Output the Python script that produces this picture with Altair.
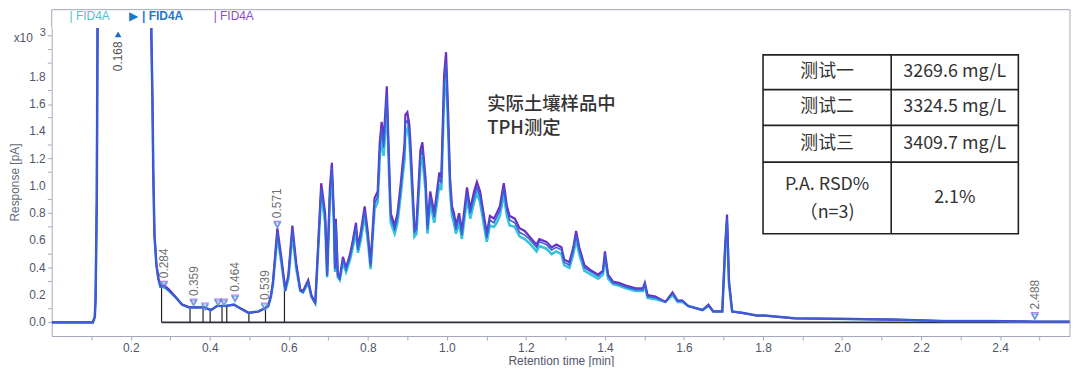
import altair as alt
import pandas as pd

# ---------------- data ----------------
rt = [0.0, 0.104, 0.109, 0.111, 0.114, 0.116, 0.121, 0.172, 0.222, 0.247,
      0.252, 0.255, 0.257, 0.260, 0.265, 0.270, 0.275, 0.285, 0.297, 0.315,
      0.330, 0.348, 0.365, 0.385, 0.403, 0.418, 0.440, 0.461, 0.473, 0.498,
      0.523, 0.544, 0.548, 0.555, 0.560, 0.571, 0.581, 0.591, 0.599, 0.609,
      0.619, 0.629, 0.636, 0.649, 0.657, 0.667, 0.674, 0.682, 0.692, 0.697,
      0.704, 0.709, 0.714, 0.717, 0.719, 0.724, 0.729, 0.737, 0.745, 0.755,
      0.762, 0.770, 0.775, 0.782, 0.792, 0.800, 0.807, 0.817, 0.825, 0.830,
      0.835, 0.840, 0.848, 0.855, 0.858, 0.868, 0.875, 0.883, 0.893, 0.895,
      0.900, 0.905, 0.908, 0.918, 0.923, 0.933, 0.938, 0.946, 0.951, 0.958,
      0.968, 0.981, 0.986, 0.993, 0.998, 1.003, 1.008, 1.013, 1.018, 1.023,
      1.031, 1.038, 1.051, 1.059, 1.069, 1.076, 1.084, 1.094, 1.101, 1.109,
      1.119, 1.126, 1.134, 1.144, 1.152, 1.159, 1.172, 1.184, 1.197, 1.209,
      1.227, 1.234, 1.252, 1.265, 1.277, 1.290, 1.297, 1.310, 1.320, 1.327,
      1.335, 1.348, 1.365, 1.383, 1.395, 1.400, 1.408, 1.420, 1.435, 1.453,
      1.478, 1.496, 1.501, 1.508, 1.528, 1.553, 1.571, 1.584, 1.596, 1.611,
      1.647, 1.662, 1.674, 1.697, 1.704, 1.709, 1.714, 1.722, 1.747, 1.785,
      1.805, 1.880, 2.006, 2.131, 2.257, 2.383, 2.484, 2.577]

fid_cyan = [0.00, 0.00, 0.04, 0.17, 0.89, 2.16, 4.0, 6.0, 6.0, 4.0,
            2.14, 1.62, 1.11, 0.64, 0.42, 0.32, 0.26, 0.26, 0.23, 0.18,
            0.13, 0.11, 0.11, 0.11, 0.09, 0.12, 0.12, 0.13, 0.11, 0.07,
            0.08, 0.11, 0.12, 0.19, 0.28, 0.63, 0.44, 0.23, 0.32, 0.65,
            0.39, 0.23, 0.22, 0.29, 0.19, 0.14, 0.51, 0.94, 0.73, 0.33,
            0.91, 1.08, 0.73, 0.37, 0.70, 0.33, 0.31, 0.44, 0.37, 0.46,
            0.55, 0.66, 0.51, 0.60, 0.78, 0.60, 0.39, 0.83, 0.88, 1.20,
            1.36, 1.22, 1.60, 0.97, 0.73, 0.65, 0.73, 0.93, 1.20, 1.40,
            1.42, 1.34, 1.20, 0.63, 0.65, 1.15, 1.21, 0.97, 0.65, 0.88,
            0.73, 1.01, 0.97, 1.66, 1.85, 1.43, 0.97, 0.78, 0.73, 0.65,
            0.73, 0.61, 0.91, 0.76, 0.88, 0.95, 0.88, 0.71, 0.59, 0.71,
            0.70, 0.73, 0.78, 0.94, 0.78, 0.71, 0.70, 0.63, 0.61, 0.58,
            0.52, 0.56, 0.54, 0.50, 0.52, 0.50, 0.42, 0.40, 0.50, 0.61,
            0.50, 0.38, 0.35, 0.32, 0.35, 0.48, 0.32, 0.28, 0.27, 0.25,
            0.23, 0.23, 0.27, 0.18, 0.17, 0.15, 0.20, 0.15, 0.15, 0.12,
            0.09, 0.12, 0.08, 0.08, 0.51, 0.73, 0.28, 0.08, 0.07, 0.05,
            0.05, 0.03, 0.025, 0.02, 0.01, 0.01, 0.005, 0.005]

fid_blue = [0.00, 0.00, 0.04, 0.17, 0.89, 2.16, 4.0, 6.0, 6.0, 4.0,
            2.14, 1.62, 1.11, 0.64, 0.42, 0.32, 0.26, 0.26, 0.23, 0.18,
            0.13, 0.11, 0.11, 0.11, 0.09, 0.12, 0.12, 0.13, 0.11, 0.07,
            0.08, 0.11, 0.12, 0.19, 0.29, 0.66, 0.46, 0.23, 0.34, 0.68,
            0.41, 0.23, 0.22, 0.30, 0.19, 0.14, 0.53, 0.98, 0.77, 0.34,
            0.95, 1.13, 0.77, 0.39, 0.73, 0.34, 0.32, 0.46, 0.39, 0.48,
            0.58, 0.70, 0.53, 0.63, 0.82, 0.63, 0.41, 0.87, 0.92, 1.26,
            1.42, 1.28, 1.67, 1.02, 0.77, 0.68, 0.77, 0.97, 1.26, 1.46,
            1.48, 1.40, 1.26, 0.66, 0.68, 1.21, 1.27, 1.02, 0.68, 0.92,
            0.77, 1.06, 1.02, 1.74, 1.90, 1.50, 1.02, 0.82, 0.77, 0.68,
            0.77, 0.64, 0.95, 0.80, 0.92, 0.99, 0.92, 0.75, 0.62, 0.75,
            0.73, 0.77, 0.82, 0.98, 0.82, 0.75, 0.73, 0.66, 0.64, 0.61,
            0.55, 0.59, 0.57, 0.53, 0.55, 0.53, 0.44, 0.42, 0.53, 0.64,
            0.53, 0.40, 0.37, 0.34, 0.37, 0.50, 0.34, 0.29, 0.28, 0.26,
            0.24, 0.24, 0.28, 0.19, 0.18, 0.15, 0.21, 0.16, 0.16, 0.12,
            0.09, 0.13, 0.08, 0.08, 0.53, 0.76, 0.29, 0.08, 0.07, 0.05,
            0.05, 0.03, 0.025, 0.02, 0.01, 0.01, 0.005, 0.005]

fid_purple = [0.00, 0.00, 0.04, 0.17, 0.89, 2.16, 4.0, 6.0, 6.0, 4.0,
              2.14, 1.62, 1.11, 0.64, 0.42, 0.32, 0.27, 0.27, 0.24, 0.18,
              0.13, 0.11, 0.11, 0.11, 0.09, 0.12, 0.12, 0.13, 0.11, 0.07,
              0.08, 0.11, 0.12, 0.20, 0.30, 0.69, 0.48, 0.24, 0.35, 0.71,
              0.43, 0.24, 0.23, 0.31, 0.20, 0.14, 0.55, 1.02, 0.80, 0.35,
              0.99, 1.17, 0.80, 0.40, 0.76, 0.35, 0.33, 0.48, 0.40, 0.50,
              0.60, 0.73, 0.55, 0.66, 0.85, 0.66, 0.43, 0.91, 0.96, 1.31,
              1.47, 1.33, 1.73, 1.06, 0.80, 0.71, 0.80, 1.01, 1.31, 1.52,
              1.54, 1.45, 1.31, 0.69, 0.71, 1.26, 1.32, 1.06, 0.71, 0.96,
              0.80, 1.10, 1.06, 1.81, 1.98, 1.56, 1.06, 0.85, 0.80, 0.71,
              0.80, 0.67, 0.99, 0.83, 0.96, 1.03, 0.96, 0.78, 0.65, 0.78,
              0.76, 0.80, 0.85, 1.02, 0.85, 0.78, 0.76, 0.69, 0.67, 0.63,
              0.57, 0.61, 0.59, 0.55, 0.57, 0.55, 0.46, 0.44, 0.55, 0.67,
              0.55, 0.42, 0.38, 0.35, 0.38, 0.52, 0.35, 0.30, 0.29, 0.27,
              0.25, 0.25, 0.29, 0.20, 0.19, 0.15, 0.22, 0.16, 0.16, 0.12,
              0.09, 0.13, 0.08, 0.08, 0.55, 0.79, 0.30, 0.08, 0.07, 0.05,
              0.05, 0.03, 0.025, 0.02, 0.01, 0.01, 0.005, 0.005]

peak_rt = [0.284, 0.359, 0.388, 0.421, 0.436, 0.464, 0.539, 0.571, 2.488]
peak_resp = [0.28, 0.15, 0.12, 0.15, 0.15, 0.18, 0.12, 0.72, 0.05]
peak_label = ["0.284", "0.359", "", "", "", "0.464", "0.539", "0.571", "2.488"]

offscale_rt = [0.168]
offscale_resp = [2.11]
offscale_label = ["0.168"]

drop_rt = [0.278, 0.350, 0.383, 0.401, 0.431, 0.443, 0.499, 0.541, 0.589]
drop_resp = [0.27, 0.10, 0.10, 0.10, 0.13, 0.13, 0.07, 0.12, 0.24]

baseline_rt = [0.278, 2.577]

note_lines = ["实际土壤样品中", "TPH测定"]
note_rt = [1.102, 1.102]
note_resp = [1.603, 1.421]

table_names = ["测试一", "测试二", "测试三"]
table_values = ["3269.6 mg/L", "3324.5 mg/L", "3409.7 mg/L"]
rsd_names = ["P.A. RSD%", "（n=3)"]
rsd_value = "2.1%"

legend_names = ["| FID4A", "| FID4A", "| FID4A"]

x_ticks = [0.1, 0.2, 0.3, 0.4, 0.5, 0.6, 0.7, 0.8, 0.9, 1.0, 1.1, 1.2, 1.3,
           1.4, 1.5, 1.6, 1.7, 1.8, 1.9, 2.0, 2.1, 2.2, 2.3, 2.4, 2.5]
y_major = [0.0, 0.2, 0.4, 0.6, 0.8, 1.0, 1.2, 1.4, 1.6, 1.8]
y_major_labels = ["0.0", "0.2", "0.4", "0.6", "0.8", "1.0", "1.2", "1.4", "1.6", "1.8"]
y_minor = [0.1, 0.3, 0.5, 0.7, 0.9, 1.1, 1.3, 1.5, 1.7, 1.9, 2.0, 2.1]

# ---------------- layout / style ----------------
W, H = 1025, 310
HEADER_TOP = -18.5
CYAN, BLUE, PURPLE = "#36c3dd", "#3b5fd8", "#6a30c2"
AX = "#a0a8b8"
LBL = "#50566a"
FONT = "Liberation Sans"
NARROW = "Liberation Sans Narrow, Liberation Sans"
CJK = "Noto Sans CJK SC"
TXT = "#333333"

# table layout in plot pixels
T_L, T_M, T_R = 716, 845, 973
T_ROWS = [27, 62, 98, 135, 207]

xs = alt.Scale(domain=[0.0, 2.577], nice=False, zero=False)
ys = alt.Scale(domain=[-0.1, 2.157], nice=False, zero=False)

x_axis = alt.Axis(
    values=x_ticks,
    labelExpr="(round(datum.value*10) % 2 == 0) ? format(datum.value, '.1f') : ''",
    labelOverlap=False,
    title="Retention time [min]", grid=False, tickSize=4, tickColor=AX,
    domainColor=AX, labelColor=LBL, labelFont=NARROW, labelFontSize=12,
    labelPadding=3, titleFont=NARROW, titleFontSize=12, titleColor=LBL,
    titleFontWeight="normal", titleY=25, titleBaseline="middle",
)
y_axis = alt.Axis(
    values=y_major, labels=False,
    title="Response [pA]", grid=False, tickSize=4, tickColor=AX,
    domainColor=AX, titleFont=FONT, titleFontSize=12, titleColor="#5f6b7d",
    titleFontWeight="normal", titleX=-37, titleY=H / 2, titleAngle=270,
    titleAlign="center", titleBaseline="middle",
)

one = pd.DataFrame({"a": [0]})
layers = []

# integration baseline
base_df = pd.DataFrame({"rt": baseline_rt, "resp": [0.0, 0.0]})
layers.append(
    alt.Chart(base_df).mark_line(color="#2b2f3a", strokeWidth=2, clip=True).encode(
        x=alt.X("rt:Q", scale=xs, axis=x_axis),
        y=alt.Y("resp:Q", scale=ys, axis=y_axis),
    )
)

# y tick labels and minor y ticks
ylab_df = pd.DataFrame({"resp": y_major, "lab": y_major_labels})
layers.append(
    alt.Chart(ylab_df).mark_text(align="right", baseline="middle", font=FONT, fontSize=12,
                                 color=LBL).encode(
        x=alt.value(-6), y=alt.Y("resp:Q", scale=ys), text="lab:N"
    )
)
minor_df = pd.DataFrame({"resp": y_minor})
layers.append(
    alt.Chart(minor_df).mark_rule(color=AX, strokeWidth=1).encode(
        x=alt.value(-4), x2=alt.value(0), y=alt.Y("resp:Q", scale=ys)
    )
)

# drop lines
drop_df = pd.DataFrame({"rt": drop_rt, "resp": drop_resp, "zero": [0.0] * len(drop_rt)})
layers.append(
    alt.Chart(drop_df).mark_rule(color="#222", strokeWidth=1.2).encode(
        x=alt.X("rt:Q", scale=xs), y=alt.Y("zero:Q", scale=ys), y2="resp:Q"
    )
)

# traces
for vals, col, sw in [(fid_cyan, CYAN, 2.6), (fid_purple, PURPLE, 2.2), (fid_blue, BLUE, 1.6)]:
    df = pd.DataFrame({"rt": rt, "resp": vals})
    layers.append(
        alt.Chart(df).mark_line(color=col, strokeWidth=sw, clip=True).encode(
            x=alt.X("rt:Q", scale=xs), y=alt.Y("resp:Q", scale=ys)
        )
    )

# peak markers
peaks_df = pd.DataFrame({"rt": peak_rt, "resp": peak_resp, "label": peak_label})
layers.append(
    alt.Chart(peaks_df).mark_point(shape="triangle-down", filled=False, size=38,
                                   color=CYAN, strokeWidth=1.3).encode(
        x=alt.X("rt:Q", scale=xs), y=alt.Y("resp:Q", scale=ys), yOffset=alt.value(1.5)
    )
)
layers.append(
    alt.Chart(peaks_df).mark_point(shape="triangle-down", filled=False, size=42,
                                   color="#8a55d8", strokeWidth=1.3).encode(
        x=alt.X("rt:Q", scale=xs), y=alt.Y("resp:Q", scale=ys)
    )
)
layers.append(
    alt.Chart(peaks_df).mark_text(angle=270, align="left", baseline="middle", dx=6,
                                  font=FONT, fontSize=12, color="#707070").encode(
        x=alt.X("rt:Q", scale=xs), y=alt.Y("resp:Q", scale=ys), text="label:N"
    )
)

off_df = pd.DataFrame({"rt": offscale_rt, "resp": offscale_resp, "label": offscale_label})
layers.append(
    alt.Chart(off_df).mark_point(shape="triangle-up", filled=True, size=45,
                                 color="#2166c9", opacity=1).encode(
        x=alt.X("rt:Q", scale=xs), y=alt.Y("resp:Q", scale=ys)
    )
)
layers.append(
    alt.Chart(off_df).mark_text(angle=270, align="right", baseline="middle", dx=-7,
                                font=FONT, fontSize=12, color="#555").encode(
        x=alt.X("rt:Q", scale=xs), y=alt.Y("resp:Q", scale=ys), text="label:N"
    )
)

# annotation text
note_df = pd.DataFrame({"rt": note_rt, "resp": note_resp, "t": note_lines})
layers.append(
    alt.Chart(note_df).mark_text(align="left", baseline="middle", font=CJK, fontSize=18.5,
                                 fontWeight=500, color=TXT).encode(
        x=alt.X("rt:Q", scale=xs), y=alt.Y("resp:Q", scale=ys), text="t:N"
    )
)

# frame: header box lines
layers.append(alt.Chart(one).mark_rule(color=AX, strokeWidth=1).encode(
    x=alt.value(0), x2=alt.value(W), y=alt.value(HEADER_TOP)))
layers.append(alt.Chart(one).mark_rule(color=AX, strokeWidth=1).encode(
    x=alt.value(W), y=alt.value(HEADER_TOP), y2=alt.value(H)))
layers.append(alt.Chart(one).mark_rule(color=AX, strokeWidth=1).encode(
    x=alt.value(0), y=alt.value(HEADER_TOP), y2=alt.value(0)))

# header legend
for txt, xpos, col, wt in [(legend_names[0], 18, "#4cc4cf", "normal"),
                           ("▶", 78, "#1f78c8", "normal"),
                           (legend_names[1], 91, "#1f78c8", "bold"),
                           (legend_names[2], 163, "#8a4bd2", "normal")]:
    layers.append(alt.Chart(one).mark_text(align="left", baseline="middle", font=FONT,
                                           fontSize=12, fontWeight=wt, color=col, text=txt).encode(
        x=alt.value(xpos), y=alt.value(-12)))

# x10^3 multiplier
layers.append(alt.Chart(one).mark_text(align="right", baseline="middle", font=FONT, fontSize=12,
                                       color=LBL, text="x10").encode(
    x=alt.value(-19), y=alt.value(10)))
layers.append(alt.Chart(one).mark_text(align="left", baseline="middle", font=FONT, fontSize=11,
                                       color=LBL, text="3").encode(
    x=alt.value(-12), y=alt.value(5)))

# table
layers.append(alt.Chart(one).mark_rect(fill="white", stroke="#222", strokeWidth=1.6).encode(
    x=alt.value(T_L), x2=alt.value(T_R), y=alt.value(T_ROWS[0]), y2=alt.value(T_ROWS[-1])))
layers.append(alt.Chart(one).mark_rule(color="#222", strokeWidth=1.6).encode(
    x=alt.value(T_M), y=alt.value(T_ROWS[0]), y2=alt.value(T_ROWS[-1])))
for ry in T_ROWS[1:-1]:
    layers.append(alt.Chart(one).mark_rule(color="#222", strokeWidth=1.6).encode(
        x=alt.value(T_L), x2=alt.value(T_R), y=alt.value(ry)))

TFS = 18
cl = (T_L + T_M) / 2
cr = (T_M + T_R) / 2
for i in range(3):
    cy = (T_ROWS[i] + T_ROWS[i + 1]) / 2
    for txt, cx in [(table_names[i], cl), (table_values[i], cr)]:
        layers.append(alt.Chart(one).mark_text(align="center", baseline="middle", font=CJK,
                                               fontSize=TFS, color=TXT, text=txt).encode(
            x=alt.value(cx), y=alt.value(cy)))
cy4 = (T_ROWS[3] + T_ROWS[4]) / 2
layers.append(alt.Chart(one).mark_text(align="center", baseline="middle", font=CJK,
                                       fontSize=TFS, color=TXT, text=rsd_names[0]).encode(
    x=alt.value(cl), y=alt.value(cy4 - 13)))
layers.append(alt.Chart(one).mark_text(align="center", baseline="middle", font=CJK,
                                       fontSize=TFS, color=TXT, text=rsd_names[1]).encode(
    x=alt.value(cl), y=alt.value(cy4 + 15)))
layers.append(alt.Chart(one).mark_text(align="center", baseline="middle", font=CJK,
                                       fontSize=TFS, color=TXT, text=rsd_value).encode(
    x=alt.value(cr), y=alt.value(cy4)))

chart = alt.layer(*layers).properties(
    width=W, height=H,
    padding={"left": 44, "top": 19, "right": 2, "bottom": 30},
    autosize=alt.AutoSizeParams(type="none"),
).configure_view(stroke=None)

chart.save("out.html", embed_options={"renderer": "svg", "actions": False})
